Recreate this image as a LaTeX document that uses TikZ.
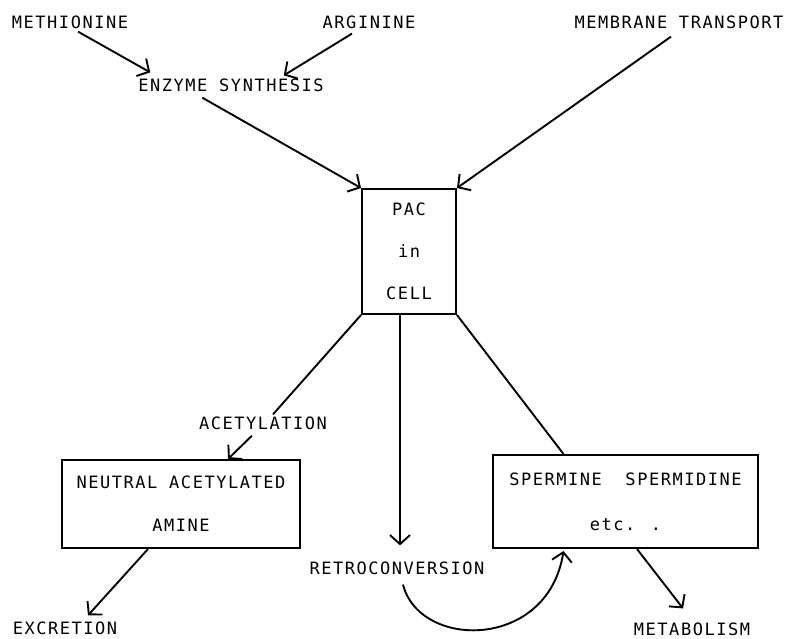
\documentclass[tikz,border=0pt]{standalone}
\usepackage{fontspec}
\usepackage{tikz}
\usetikzlibrary{arrows.meta,positioning}
\newfontfamily\plotfont{DejaVu Sans Mono}[LetterSpace=9]
\tikzset{
  lbl/.style={font=\plotfont\fontsize{17}{20}\selectfont, inner sep=0pt, align=center},
  box/.style={lbl, draw, line width=2pt},
  ar/.style={-{Straight Barb[length=9pt,width=20pt]}, line width=1.9pt},
  ln/.style={line width=1.9pt}
}
\begin{document}
\begin{tikzpicture}[x=1pt,y=-1pt]
  \useasboundingbox (0,0) rectangle (790,638);
  % sources
  \node[lbl] (meth) at (70,22) {METHIONINE};
  \node[lbl] (arg) at (369,22) {ARGININE};
  \node[lbl] (memb) at (679,22) {MEMBRANE TRANSPORT};
  \node[lbl] (enz) at (231,85) {ENZYME SYNTHESIS};
  % cell pool
  \node[box, minimum width=94pt, minimum height=125pt] (pac) at (409,251.5)
    {PAC\\[22pt]in\\[22pt]CELL};
  % fates
  \node[lbl] (acet) at (263,423) {ACETYLATION};
  \node[box, minimum width=238pt, minimum height=88pt] (neut) at (181,504)
    {NEUTRAL ACETYLATED\\[23pt]AMINE};
  \node[lbl] (retro) at (397,568) {RETROCONVERSION};
  \node[box, minimum width=265pt, minimum height=93pt] (sperm) at (625.5,501.5)
    {SPERMINE\ \ SPERMIDINE\\[25pt]etc. .};
  \node[lbl] (excr) at (65,628) {EXCRETION};
  \node[lbl] (metab) at (692,629) {METABOLISM};

  \draw[ar] ([xshift=8pt,yshift=-3pt]meth.south) -- ([xshift=12pt,yshift=6pt]enz.north west);
  \draw[ar] ([xshift=-17pt,yshift=-5pt]arg.south) -- ([xshift=-40pt,yshift=3pt]enz.north east);
  \draw[ar] ([xshift=64pt,yshift=-6pt]enz.south west) -- (pac.north west);
  \draw[ar] ([xshift=-8pt,yshift=-8pt]memb.south) -- (pac.north east);
  \draw[ln] (pac.south west) -- ([xshift=10pt,yshift=2pt]acet.north);
  \draw[ar] ([xshift=-11pt,yshift=-6pt]acet.south) -- ([xshift=47pt]neut.north);
  \draw[ar] ([xshift=-33pt]neut.south) -- ([xshift=23pt,yshift=6pt]excr.north);
  \draw[ar] ([xshift=-9pt]pac.south) -- ([xshift=3pt,yshift=16pt]retro.north);
  \draw[ln] (pac.south east) -- ([xshift=-62pt]sperm.north);
  \draw[ar] ([xshift=11.5pt]sperm.south) -- ([xshift=-9pt,yshift=14pt]metab.north);
  \draw[ar] ([xshift=6pt,yshift=-10pt]retro.south)
    .. controls (420,650) and (548,650) .. ([xshift=-62pt,yshift=-2pt]sperm.south);
\end{tikzpicture}
\end{document}
